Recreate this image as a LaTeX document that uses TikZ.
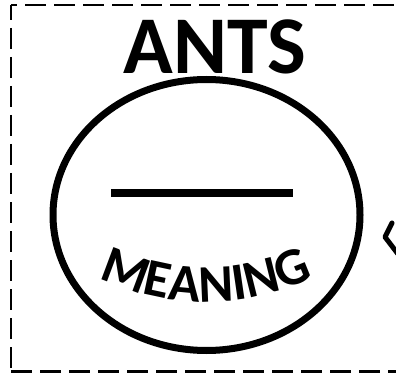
\documentclass[tikz,border=0pt]{standalone}
\usepackage{fontspec}
\setmainfont{Carlito}
\usetikzlibrary{shapes.geometric,decorations.text}
\begin{document}
\begin{tikzpicture}[x=1pt,y=1pt,
  frame/.style={line width=2.7pt, dash pattern=on 21pt off 8pt},
  oval/.style={draw, ellipse, line width=7pt, minimum width=307pt, minimum height=271pt, inner sep=0pt},
  bar/.style={line width=8pt},
  title/.style={font=\bfseries\fontsize{82}{82}\selectfont, inner sep=0pt, anchor=base}]
\useasboundingbox (0,0) rectangle (396,378);
\begin{scope}
\clip (0,0) rectangle (396,378);
\coordinate (ftl) at (11,373);
\coordinate (fbl) at (11,6.3);
\coordinate (ftr) at (410,373);
\coordinate (fbr) at (410,6.3);
\draw[frame, dash phase=6pt] (ftl) -- (fbl);
\draw[frame, dash phase=15pt] (ftl) -- (ftr);
\draw[frame, dash phase=0pt] (fbl) -- (fbr);
\coordinate (b1) at (392,155);
\coordinate (b2) at (385,141);
\coordinate (b3) at (398,124);
\draw[line width=5pt, line join=round, line cap=round] (b1) -- (b2) -- (b3);
\end{scope}
\node[oval] (circ) at (206.5,163) {};
\node[title] (ants) at (215,304) {ANTS};
\coordinate (l1) at (111,185.5);
\coordinate (l2) at (293,185.5);
\draw[bar] (l1) -- (l2);
\coordinate (mc) at (206,322);
\path[decorate, decoration={text along path, text align=center,
  text={|\bfseries\fontsize{53}{53}\selectfont|MEANING}}]
  (mc) ++(242:246) arc[start angle=242, end angle=298, radius=246];
\end{tikzpicture}
\end{document}
